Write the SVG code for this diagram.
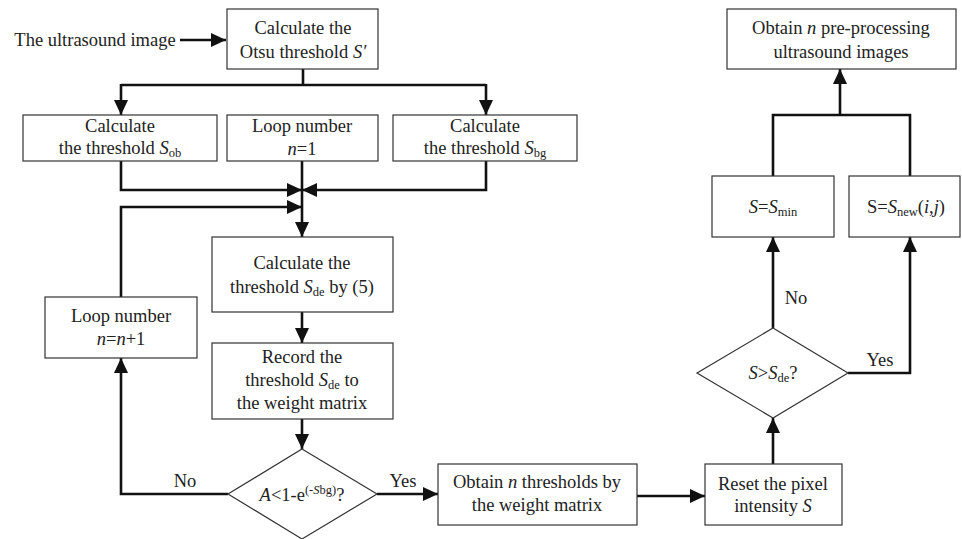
<svg xmlns="http://www.w3.org/2000/svg" width="962" height="539" viewBox="0 0 962 539" font-family="Liberation Serif, DejaVu Serif, serif">
<style>
text{font-family:'Liberation Serif','DejaVu Serif',serif;font-size:18.5px;fill:#222;text-anchor:middle}
.i{font-style:italic}
.s{font-size:12.5px}
.box{fill:#fff;stroke:#333;stroke-width:1.2}
.c{fill:none;stroke:#111;stroke-width:2.6}
</style>
<defs>
<marker id="a" markerUnits="userSpaceOnUse" markerWidth="16" markerHeight="16" refX="15" refY="7" orient="auto">
<path d="M0,0 L15,7 L0,14 z" fill="#111"/>
</marker>
</defs>
<rect width="962" height="539" fill="#fff"/>
<g id="connectors">
<path class="c" d="M180,40 H226" marker-end="url(#a)"/>
<path class="c" d="M303,69 V85"/>
<path class="c" d="M121,85 H486"/>
<path class="c" d="M121,84 V115" marker-end="url(#a)"/>
<path class="c" d="M486,84 V115" marker-end="url(#a)"/>
<path class="c" d="M121,161 V190 H302" marker-end="url(#a)"/>
<path class="c" d="M486,161 V190 H302" marker-end="url(#a)"/>
<path class="c" d="M302,161 V237" marker-end="url(#a)"/>
<path class="c" d="M121,297 V207 H302" marker-end="url(#a)"/>
<path class="c" d="M302,312 V343" marker-end="url(#a)"/>
<path class="c" d="M302,419 V449" marker-end="url(#a)"/>
<path class="c" d="M228,494 H121 V358" marker-end="url(#a)"/>
<path class="c" d="M377,494 H438" marker-end="url(#a)"/>
<path class="c" d="M637,496 H705" marker-end="url(#a)"/>
<path class="c" d="M773,464 V418" marker-end="url(#a)"/>
<path class="c" d="M773,328 V237" marker-end="url(#a)"/>
<path class="c" d="M848,373 H910 V237" marker-end="url(#a)"/>
<path class="c" d="M773,176 V115 H910 V176"/>
<path class="c" d="M840,115 V69" marker-end="url(#a)"/>
<text x="185" y="487">No</text>
<text x="403" y="487">Yes</text>
<text x="796" y="304">No</text>
<text x="880" y="366">Yes</text>
</g>
<g id="input">
<text x="95" y="46">The ultrasound image</text>
</g>
<g id="otsu">
<rect class="box" x="227" y="9" width="151" height="60"/>
<text x="303" y="34">Calculate the</text>
<text x="303" y="58">Otsu threshold <tspan class="i">S′</tspan></text>
</g>
<g id="sob">
<rect class="box" x="23" y="115" width="194" height="46"/>
<text x="120" y="132">Calculate</text>
<text x="120" y="154">the threshold <tspan class="i">S</tspan><tspan class="s" dy="3">ob</tspan></text>
</g>
<g id="loop1">
<rect class="box" x="227" y="115" width="151" height="46"/>
<text x="302" y="132">Loop number</text>
<text x="302" y="155"><tspan class="i">n</tspan>=1</text>
</g>
<g id="sbg">
<rect class="box" x="393" y="115" width="184" height="46"/>
<text x="485" y="132">Calculate</text>
<text x="485" y="154">the threshold <tspan class="i">S</tspan><tspan class="s" dy="3">bg</tspan></text>
</g>
<g id="sde">
<rect class="box" x="212" y="237" width="181" height="75"/>
<text x="302" y="269">Calculate the</text>
<text x="302" y="293">threshold <tspan class="i">S</tspan><tspan class="s" dy="3">de</tspan><tspan dy="-3"> by (5)</tspan></text>
</g>
<g id="loopn">
<rect class="box" x="45" y="297" width="152" height="61"/>
<text x="121" y="322">Loop number</text>
<text x="121" y="345"><tspan class="i">n</tspan>=<tspan class="i">n</tspan>+1</text>
</g>
<g id="record">
<rect class="box" x="212" y="343" width="181" height="76"/>
<text x="302" y="363">Record  the</text>
<text x="302" y="386">threshold <tspan class="i">S</tspan><tspan class="s" dy="3">de</tspan><tspan dy="-3"> to</tspan></text>
<text x="302" y="409">the weight matrix</text>
</g>
<g id="decision1">
<path class="box" d="M302,449 L377,494 L302,539 L228,494 z"/>
<text x="302" y="501"><tspan class="i">A</tspan>&lt;1-e<tspan class="s" dy="-7">(-<tspan class="i">S</tspan>bg)</tspan><tspan dy="7">?</tspan></text>
</g>
<g id="obtain">
<rect class="box" x="438" y="464" width="199" height="61"/>
<text x="537" y="488">Obtain <tspan class="i">n</tspan> thresholds by</text>
<text x="537" y="511">the weight matrix</text>
</g>
<g id="reset">
<rect class="box" x="705" y="464" width="137" height="61"/>
<text x="773" y="490">Reset the pixel</text>
<text x="773" y="512">intensity <tspan class="i">S</tspan></text>
</g>
<g id="decision2">
<path class="box" d="M773,328 L848,373 L773,418 L697,373 z"/>
<text x="773" y="379"><tspan class="i">S</tspan>&gt;<tspan class="i">S</tspan><tspan class="s" dy="3">de</tspan><tspan dy="-3">?</tspan></text>
</g>
<g id="smin">
<rect class="box" x="712" y="176" width="122" height="61"/>
<text x="773" y="213"><tspan class="i">S</tspan>=<tspan class="i">S</tspan><tspan class="s" dy="3">min</tspan></text>
</g>
<g id="snew">
<rect class="box" x="849" y="176" width="111" height="61"/>
<text x="906" y="213">S=<tspan class="i">S</tspan><tspan class="s" dy="3">new</tspan><tspan dy="-3">(<tspan class="i">i</tspan>,<tspan class="i">j</tspan>)</tspan></text>
</g>
<g id="result">
<rect class="box" x="727" y="9" width="229" height="60"/>
<text x="841" y="34">Obtain <tspan class="i">n</tspan> pre-processing</text>
<text x="841" y="58">ultrasound images</text>
</g>
</svg>
